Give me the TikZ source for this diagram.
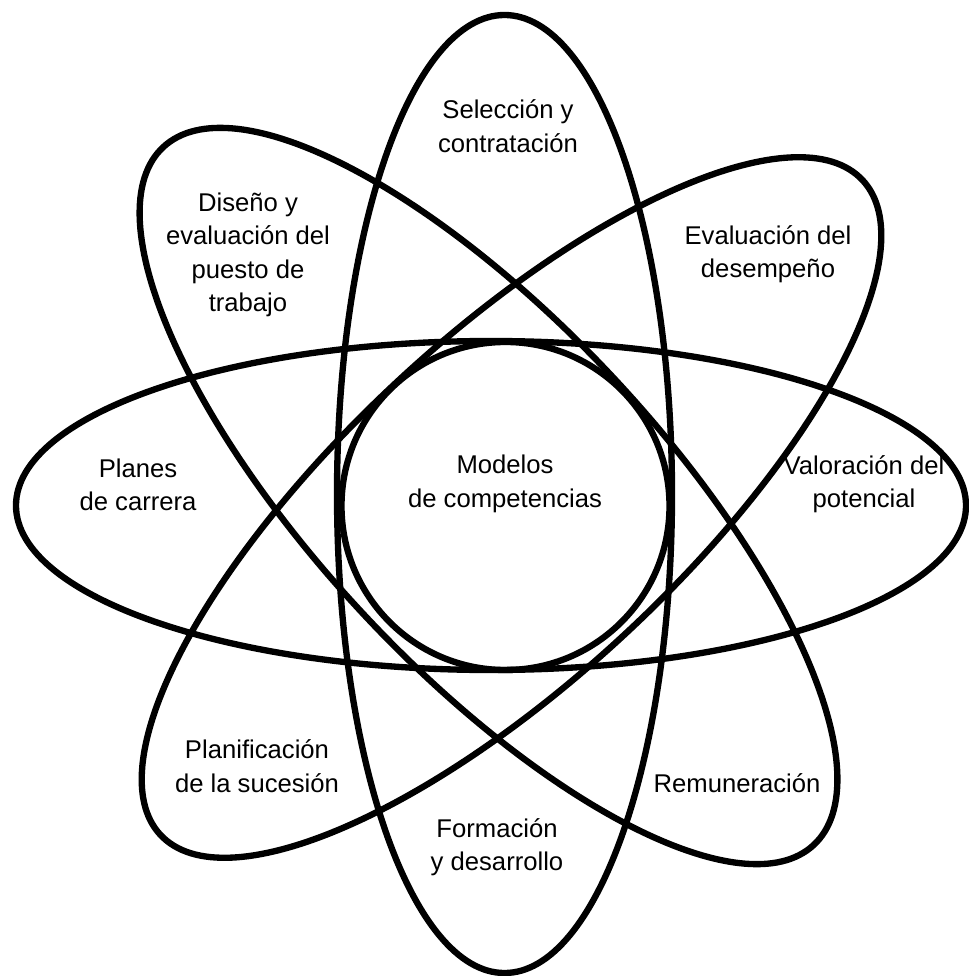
\documentclass[tikz,border=0pt]{standalone}
\usepackage{fontspec}
\setmainfont{Liberation Sans}

\begin{document}
\begin{tikzpicture}[x=0.02cm, y=-0.02cm,
      orbit/.style={draw=black, line width=3.6pt},
      every node/.style={font=\fontsize{14.6}{19}\selectfont, align=center}]
    \useasboundingbox[fill=white] (0,0) rectangle (968,976);
    % nucleus
    \draw[orbit] (505.5,506) circle (164);
    % orbits: centre x / centre y / angle / half axes
    \foreach \cx/\cy/\ang/\ra/\rb in {491/505.5/0/475/164.5, 504.5/494/-90/479/167.5,
        488.5/496/-47/477/172, 511.5/507.5/43/480/170} {
      \draw[orbit, rotate around={\ang:(\cx,\cy)}] (\cx,\cy) ellipse ({\ra} and {\rb});
    }
    % labels
    \node (mod) at (505,484) {Modelos\\de competencias};
    \foreach \nm/\pos/\lab in {sel/{508,126}/{Selección y\\contratación},
        dis/{248,255}/{Diseño y\\evaluación del\\puesto de\\trabajo},
        eva/{768,254}/{Evaluación del\\desempeño},
        pla/{138,485}/{Planes\\de carrera},
        val/{864,484}/{Valoración del\\potencial},
        suc/{257,766}/{Planificación\\de la sucesión},
        rem/{737,783}/{Remuneración},
        for/{497,847}/{Formación\\y desarrollo}} {
      \node (\nm) at (\pos) {\lab};
    }
\end{tikzpicture}
\end{document}
